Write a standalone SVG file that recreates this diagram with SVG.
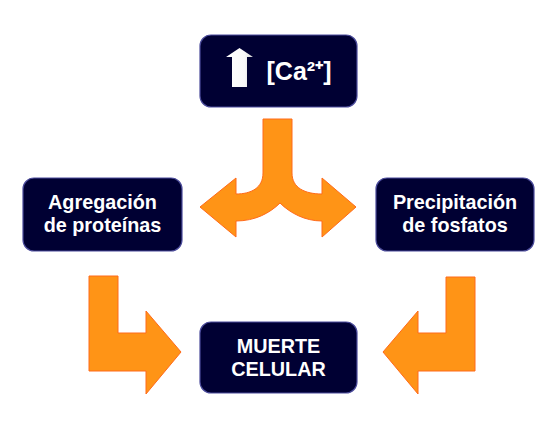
<svg xmlns="http://www.w3.org/2000/svg" width="558" height="438" viewBox="0 0 558 438">
<defs>
<style>
.box{fill:#000033;stroke:#4b4b9b;stroke-width:1.2}
.lbl{font-family:"Liberation Sans",Arial,sans-serif;font-weight:bold;font-size:19.8px;fill:#ffffff;text-anchor:middle}
.arr{fill:#ff9416;stroke:#ff6a1a;stroke-width:1}
</style>
<linearGradient id="wg" x1="0" y1="0" x2="1" y2="0">
<stop offset="0" stop-color="#ffffff"/>
<stop offset="0.7" stop-color="#f8f8f8"/>
<stop offset="1" stop-color="#cfcfcf"/>
</linearGradient>
</defs>
<rect width="558" height="438" fill="#ffffff"/>
<g id="connectors">
<path class="arr" d="M263,119 L292,119 L292,173 C292,188 305,194 322,194 L322,178 L356,207 L322,237 L322,221 C305,221 290,213 280,203 C270,213 255,221 236,221 L236,237 L200,207 L236,178 L236,194 C251,194 263,188 263,173 Z"/>
<path class="arr" d="M89,276 L118,276 L118,333 L146,333 L146,311 L181,352 L146,394 L146,371 L89,371 Z"/>
<path class="arr" d="M446,277 L475,277 L475,371 L418,371 L418,394 L383,352 L418,311 L418,333 L446,333 Z"/>
</g>
<g id="node-calcio">
<rect class="box" x="200" y="35" width="157" height="72" rx="11"/>
<path d="M239.5,48 L253,57 L247,57 L247,87 L232,87 L232,57 L226,57 Z" fill="url(#wg)"/>
<text class="lbl" x="299" y="80" style="font-size:25px">[Ca²⁺]</text>
</g>
<g id="node-agregacion">
<rect class="box" x="23" y="178" width="159" height="73" rx="11"/>
<text class="lbl" x="102.5" y="209">Agregación</text>
<text class="lbl" x="102.5" y="232">de proteínas</text>
</g>
<g id="node-precipitacion">
<rect class="box" x="376" y="178" width="158" height="73" rx="11"/>
<text class="lbl" x="455" y="209">Precipitación</text>
<text class="lbl" x="455" y="232">de fosfatos</text>
</g>
<g id="node-muerte">
<rect class="box" x="200" y="322" width="157" height="71" rx="11"/>
<text class="lbl" x="278.5" y="353">MUERTE</text>
<text class="lbl" x="278.5" y="376">CELULAR</text>
</g>
</svg>
